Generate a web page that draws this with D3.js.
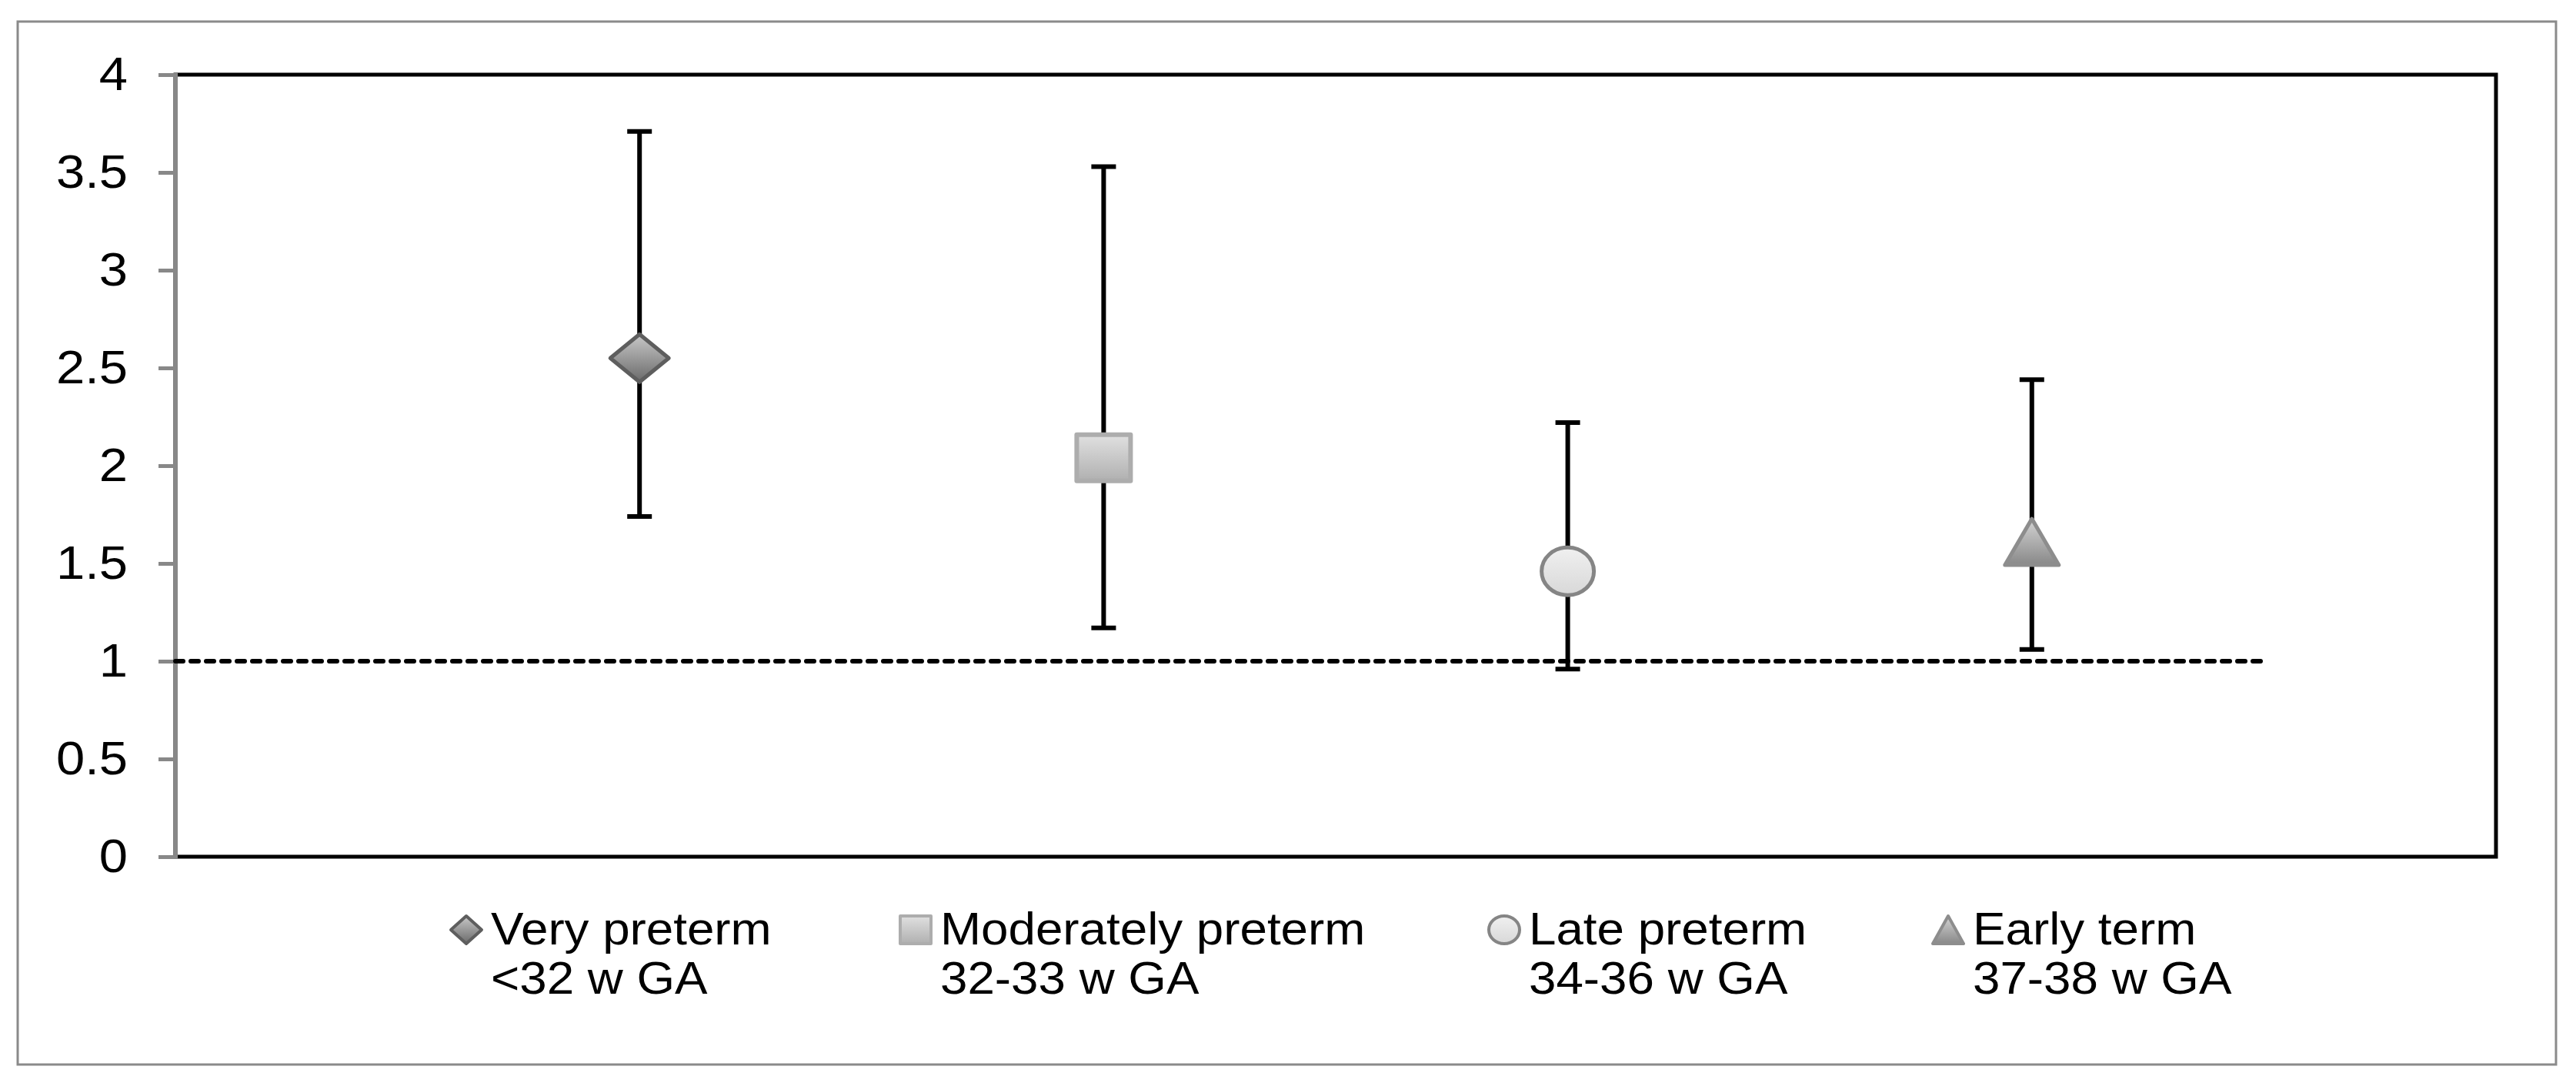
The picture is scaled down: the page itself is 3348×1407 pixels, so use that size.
<!DOCTYPE html>
<html>
<head>
<meta charset="utf-8">
<script src="https://cdn.jsdelivr.net/npm/d3@7"></script>
<style>
  body { margin: 0; background: #fff; }
  text { font-family: "Liberation Sans", Arial, sans-serif; fill: #000; }
</style>
</head>
<body>
<div id="chart"></div>
<script>
// values
var groups = ["Very preterm", "Moderately preterm", "Late preterm", "Early term"];
var groupSub = ["<32 w GA", "32-33 w GA", "34-36 w GA", "37-38 w GA"];
var groupPos = [1, 2, 3, 4];
var estimate = [2.55, 2.04, 1.46, 1.61];
var lowerCI = [1.74, 1.17, 0.96, 1.06];
var upperCI = [3.71, 3.53, 2.22, 2.44];
var refLineX = [0, 4.5];
var refLineY = 1;
var yTicks = [0, 0.5, 1, 1.5, 2, 2.5, 3, 3.5, 4];

var W = 3348, H = 1407;
var plot = { left: 228, right: 3244, top: 97, bottom: 1113 };
var stretch = 1.08; // the original text is a bit wide

var svg = d3.select("#chart").append("svg")
  .attr("width", W).attr("height", H);

// marker looks
var markerStyle = [
  { shape: "diamond",  top: "#c8c8c8", bottom: "#6a6a6a", stroke: "#5e5e5e", sw: 5 },
  { shape: "square",   top: "#e0e0e0", bottom: "#b0b0b0", stroke: "#adadad", sw: 6 },
  { shape: "circle",   top: "#f0f0f0", bottom: "#d8d8d8", stroke: "#858585", sw: 5 },
  { shape: "triangle", top: "#d4d4d4", bottom: "#888888", stroke: "#8d8d8d", sw: 5 }
];

var defs = svg.append("defs");
markerStyle.forEach(function(m, i) {
  var g = defs.append("linearGradient")
    .attr("id", "grad" + i)
    .attr("x1", 0).attr("y1", 0).attr("x2", 0).attr("y2", 1);
  g.append("stop").attr("offset", "0%").attr("stop-color", m.top);
  g.append("stop").attr("offset", "100%").attr("stop-color", m.bottom);
});

function drawMarker(sel, i, cx, cy, w, h, sw) {
  var m = markerStyle[i];
  var el;
  if (m.shape === "diamond") {
    el = sel.append("path").attr("d",
      "M" + cx + "," + (cy - h / 2) + "L" + (cx + w / 2) + "," + cy +
      "L" + cx + "," + (cy + h / 2) + "L" + (cx - w / 2) + "," + cy + "Z");
  } else if (m.shape === "square") {
    el = sel.append("rect").attr("x", cx - w / 2).attr("y", cy - h / 2)
      .attr("width", w).attr("height", h);
  } else if (m.shape === "circle") {
    el = sel.append("ellipse").attr("cx", cx).attr("cy", cy)
      .attr("rx", w / 2).attr("ry", h / 2);
  } else {
    el = sel.append("path").attr("d",
      "M" + cx + "," + (cy - h / 2) + "L" + (cx + w / 2) + "," + (cy + h / 2) +
      "L" + (cx - w / 2) + "," + (cy + h / 2) + "Z");
  }
  el.attr("fill", "url(#grad" + i + ")")
    .attr("stroke", m.stroke)
    .attr("stroke-width", sw)
    .attr("stroke-linejoin", "round");
}

// outer frame
svg.append("rect")
  .attr("x", 23).attr("y", 28)
  .attr("width", 3322 - 23).attr("height", 1383 - 28)
  .attr("fill", "none").attr("stroke", "#8a8a8a").attr("stroke-width", 3);

var x = d3.scaleLinear().domain([0, 5]).range([plot.left, plot.right]);
var y = d3.scaleLinear().domain([0, 4]).range([plot.bottom, plot.top]);

// plot area border
svg.append("rect")
  .attr("x", plot.left).attr("y", plot.top)
  .attr("width", plot.right - plot.left).attr("height", plot.bottom - plot.top)
  .attr("fill", "none").attr("stroke", "#000").attr("stroke-width", 5);

// y axis
var yAxis = svg.append("g")
  .attr("transform", "translate(" + plot.left + ",0)")
  .call(d3.axisLeft(y).tickValues(yTicks).tickSize(22).tickPadding(40)
    .tickFormat(d3.format("")));
yAxis.select(".domain").attr("stroke", "#888").attr("stroke-width", 5);
yAxis.selectAll(".tick line").attr("stroke", "#888").attr("stroke-width", 5);
yAxis.selectAll(".tick text")
  .attr("x", 0)
  .attr("transform", "translate(-62,0) scale(" + stretch + ",1)")
  .style("font-size", "62px")
  .style("font-family", "'Liberation Sans', Arial, sans-serif")
  .attr("fill", "#000");

// reference line at 1
svg.append("line")
  .attr("x1", x(refLineX[0])).attr("x2", x(refLineX[1]))
  .attr("y1", y(refLineY)).attr("y2", y(refLineY))
  .attr("stroke", "#000").attr("stroke-width", 6)
  .attr("stroke-dasharray", "10,10").attr("stroke-linecap", "round");

// error bars
var capW = 32;
groups.forEach(function(g, i) {
  var cx = x(groupPos[i]);
  var eb = svg.append("g").attr("stroke", "#000").attr("stroke-width", 6);
  eb.append("line").attr("x1", cx).attr("x2", cx)
    .attr("y1", y(lowerCI[i])).attr("y2", y(upperCI[i]));
  eb.append("line").attr("x1", cx - capW / 2).attr("x2", cx + capW / 2)
    .attr("y1", y(lowerCI[i])).attr("y2", y(lowerCI[i]));
  eb.append("line").attr("x1", cx - capW / 2).attr("x2", cx + capW / 2)
    .attr("y1", y(upperCI[i])).attr("y2", y(upperCI[i]));
});

// point estimates
var markerSize = [[76, 62], [70, 60], [68, 62], [70, 60]];
groups.forEach(function(g, i) {
  drawMarker(svg, i, x(groupPos[i]), y(estimate[i]),
    markerSize[i][0], markerSize[i][1], markerStyle[i].sw);
});

// legend
var legendX = [606, 1190, 1955, 2532];
var legendY = 1208;
var legend = svg.append("g");
groups.forEach(function(g, i) {
  drawMarker(legend, i, legendX[i], legendY, 40, 36, 4);
  [g, groupSub[i]].forEach(function(line, k) {
    legend.append("text")
      .attr("transform", "translate(" + (legendX[i] + 32) + "," + (1227 + k * 64) +
        ") scale(" + stretch + ",1)")
      .style("font-size", "59px")
      .text(line);
  });
});
</script>
</body>
</html>
